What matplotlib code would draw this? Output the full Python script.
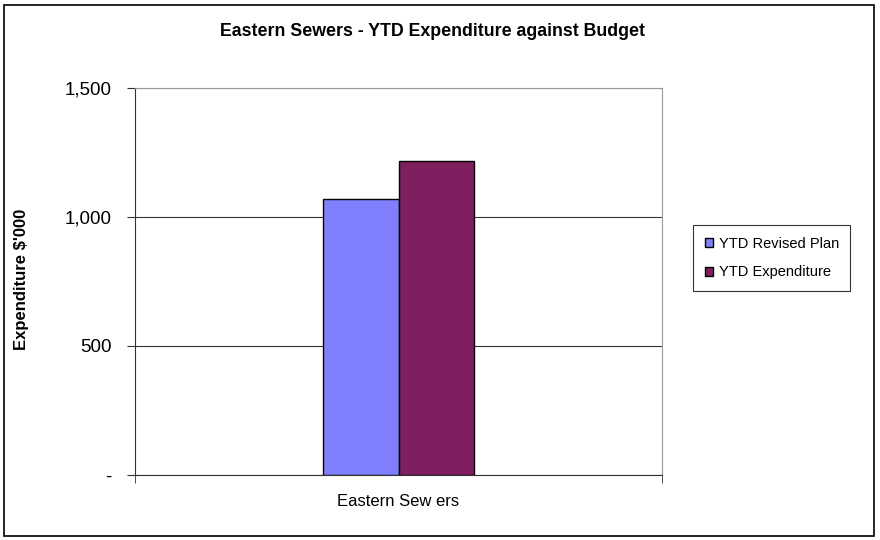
import matplotlib
matplotlib.use("Agg")
import matplotlib.pyplot as plt
from matplotlib.patches import Rectangle
from matplotlib.ticker import FuncFormatter

categories = ["Eastern Sew ers"]
series_names = ["YTD Revised Plan", "YTD Expenditure"]
revised_plan = [1070]
expenditure = [1217]
y_ticks = [0, 500, 1000, 1500]

colors = ["#8080FF", "#7F1F5F"]

plt.rcParams["font.family"] = ["Liberation Sans", "DejaVu Sans"]

fig = plt.figure(figsize=(8.8, 5.4), dpi=100)
fig.patch.set_facecolor("white")
fig.add_artist(Rectangle((0.004, 0.008), 0.989, 0.983, transform=fig.transFigure,
                         fill=False, edgecolor="black", linewidth=1.2))

ax = fig.add_axes([135 / 880, 1 - 475 / 540, (662 - 135) / 880, (475 - 88) / 540])

bw = 0.143
x = list(range(len(categories)))
ax.bar([i - bw / 2 for i in x], revised_plan, width=bw, color=colors[0],
       edgecolor="black", linewidth=1.0, label=series_names[0], zorder=3)
ax.bar([i + bw / 2 for i in x], expenditure, width=bw, color=colors[1],
       edgecolor="black", linewidth=1.0, label=series_names[1], zorder=3)

ax.set_xlim(-0.5, len(categories) - 0.5)
ax.set_ylim(0, 1500)
ax.set_yticks(y_ticks)
ax.yaxis.set_major_formatter(FuncFormatter(lambda v, p: "-" if v == 0 else f"{int(v):,}"))
ax.yaxis.grid(True, color="#333333", linewidth=0.8, zorder=0)
ax.set_axisbelow(True)

ax.set_xticks([-0.5, 0.5], minor=True)
ax.set_xticks(x)
ax.set_xticklabels(categories, fontsize=12)
ax.tick_params(axis="x", which="major", length=0, pad=14)
ax.tick_params(axis="x", which="minor", length=6, direction="out", color="#333333")
ax.tick_params(axis="y", length=6, direction="out", labelsize=13.5, pad=11, color="#333333")

for s in ["top", "right"]:
    ax.spines[s].set_color("#999999")
for s in ["left", "bottom"]:
    ax.spines[s].set_color("#333333")

ax.set_ylabel("Expenditure $'000", fontsize=12, fontweight="bold")
ax.yaxis.set_label_coords(-0.201, 0.505)
fig.text(0.4915, 1 - 32 / 540, "Eastern Sewers - YTD Expenditure against Budget",
         ha="center", va="center", fontsize=12.8, fontweight="bold")

leg = fig.legend(loc="center left", bbox_to_anchor=(693 / 880, 1 - 258 / 540),
                 fontsize=10.5, frameon=True, fancybox=False, edgecolor="black",
                 handlelength=0.6, handleheight=0.6, handletextpad=0.35,
                 labelspacing=1.0, borderpad=0.8, borderaxespad=0)
leg.get_frame().set_linewidth(0.8)

fig.savefig("out.png", dpi=100)
